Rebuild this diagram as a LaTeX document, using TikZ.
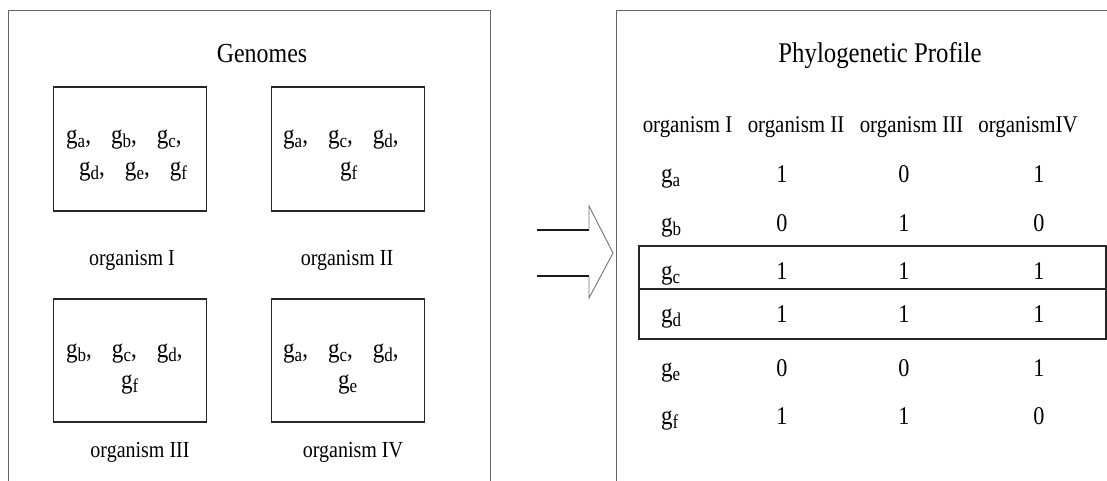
\documentclass[tikz,border=0pt]{standalone}
\usepackage{fontspec}
\setmainfont{Liberation Serif}[FakeStretch=0.87]

% gene symbol g with a lowered small index letter
\newcommand\gsub[1]{g\raisebox{-4pt}{\fontsize{19.5}{20}\selectfont #1}}
\newcommand\gsep{,\hspace{20pt}}

\begin{document}
\begin{tikzpicture}[x=1pt,y=-1pt,
  panel/.style={draw=black!60, line width=1.3pt, inner sep=0pt},
  genebox/.style={draw=black!85, line width=1.3pt, inner sep=0pt,
    minimum width=153pt, minimum height=124pt},
  genes/.style={font=\fontsize{26.5}{30}\selectfont, anchor=base west, inner sep=0pt},
  title/.style={font=\fontsize{27.5}{32}\selectfont, anchor=base, inner sep=0pt},
  orglabel/.style={font=\fontsize{23}{27}\selectfont, anchor=base, inner sep=0pt},
  colhead/.style={font=\fontsize{24}{28}\selectfont, anchor=base, inner sep=0pt},
  rowhead/.style={font=\fontsize{26.5}{30}\selectfont, anchor=base west, inner sep=0pt},
  cell/.style={font=\fontsize{25.5}{30}\selectfont, anchor=base, inner sep=0pt},
  band/.style={draw=black!85, line width=1.4pt, inner sep=0pt,
    minimum width=467pt},
  shaft/.style={draw=black!90, line width=1.4pt},
  head/.style={draw=black!55, line width=0.9pt, line join=miter}
]
\useasboundingbox (0,0) rectangle (1107,480);

% ---- left panel: genomes ----
\node[panel, minimum width=482pt, minimum height=490pt, anchor=north west]
  (genpanel) at (7.5,10) {};
\node[title] (gentitle) at (262,62) {Genomes};

\node[genebox] (box1) at (130,149) {};
\node[genebox] (box2) at (348,149) {};
\node[genebox, minimum height=123pt] (box3) at (130,360.5) {};
\node[genebox, minimum height=123pt] (box4) at (348,360.5) {};

\node[genes] (b1l1) at (66,143) {\gsub{a}\gsep\gsub{b}\gsep\gsub{c},};
\node[genes] (b1l2) at (79,175) {\gsub{d}\gsep\gsub{e}\gsep\gsub{f}};
\node[genes] (b2l1) at (283,143) {\gsub{a}\gsep\gsub{c}\gsep\gsub{d},};
\node[genes] (b2l2) at (340,175) {\gsub{f}};
\node[genes] (b3l1) at (66,357) {\gsub{b}\gsep\gsub{c}\gsep\gsub{d},};
\node[genes] (b3l2) at (121,388) {\gsub{f}};
\node[genes] (b4l1) at (283,357) {\gsub{a}\gsep\gsub{c}\gsep\gsub{d},};
\node[genes] (b4l2) at (338,388) {\gsub{e}};

\node[orglabel] (org1) at (132,265) {organism I};
\node[orglabel] (org2) at (347,265) {organism II};
\node[orglabel] (org3) at (140,457) {organism III};
\node[orglabel] (org4) at (353,457) {organism IV};

% ---- block arrow between the panels ----
\coordinate (ta) at (537,230);
\coordinate (tb) at (589,230);
\coordinate (ba) at (537,276);
\coordinate (bb) at (589,276);
\coordinate (tip) at (613,253);
\draw[shaft] (ta) -- (tb);
\draw[shaft] (ba) -- (bb);
\draw[head] (tb) -- (589,206) -- (tip) -- (589,298) -- (bb);

% ---- right panel: phylogenetic profile ----
\node[panel, minimum width=520pt, minimum height=490pt, anchor=north west]
  (profpanel) at (616,10) {};
\node[title, font=\fontsize{28.5}{32}\selectfont] (proftitle) at (880,62) {Phylogenetic Profile};

\node[colhead] (h1) at (687.5,132) {organism I};
\node[colhead] (h2) at (796,132) {organism II};
\node[colhead] (h3) at (911.5,132) {organism III};
\node[colhead] (h4) at (1028,132) {organismIV};

% rows: name / baseline / values
\foreach \r/\y/\u/\v/\w in {a/182/1/0/1, b/231/0/1/0, c/279/1/1/1,
                            d/322/1/1/1, e/376/0/0/1, f/424/1/1/0} {
  \node[rowhead] (g\r) at (661,\y) {\gsub{\r}};
  \node[cell] (\r1) at (782,\y) {\u};
  \node[cell] (\r2) at (904,\y) {\v};
  \node[cell] (\r3) at (1039,\y) {\w};
}

% highlighted rows g_c and g_d
\node[band, minimum height=43pt] (bandc) at (872.5,267.5) {};
\node[band, minimum height=50pt] (bandd) at (872.5,314) {};
\end{tikzpicture}
\end{document}
